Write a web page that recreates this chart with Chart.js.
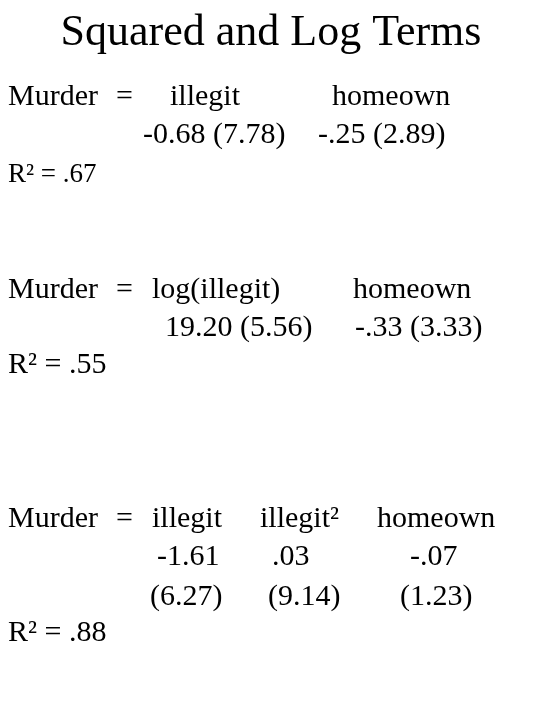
<!DOCTYPE html>
<html>
<head>
<meta charset="utf-8">
<script src="https://cdn.jsdelivr.net/npm/chart.js@4"></script>
<style>
  html, body { margin: 0; padding: 0; background: #fff; }
  #wrap { width: 540px; height: 720px; }
</style>
</head>
<body>
<div id="wrap"><canvas id="slide"></canvas></div>
<script>
const title = "Squared and Log Terms";
const model1Terms = ["Murder", "=", "illegit", "homeown"];
const model1Coefs = ["-0.68 (7.78)", "-.25 (2.89)"];
const model1R2 = "R² = .67";
const model2Terms = ["Murder", "=", "log(illegit)", "homeown"];
const model2Coefs = ["19.20 (5.56)", "-.33 (3.33)"];
const model2R2 = "R² = .55";
const model3Terms = ["Murder", "=", "illegit", "illegit²", "homeown"];
const model3Coefs = ["-1.61", ".03", "-.07"];
const model3Errors = ["(6.27)", "(9.14)", "(1.23)"];
const model3R2 = "R² = .88";

// layout: [text, x, y, size]
const items = [
  ...[[8, 97], [116, 97], [170, 97], [332, 97]].map((p, i) => [model1Terms[i], p[0], p[1], 30]),
  ...[[143, 135], [318, 135]].map((p, i) => [model1Coefs[i], p[0], p[1], 30]),
  [model1R2, 8, 175, 27],
  ...[[8, 290], [116, 290], [152, 290], [353, 290]].map((p, i) => [model2Terms[i], p[0], p[1], 30]),
  ...[[165, 328], [355, 328]].map((p, i) => [model2Coefs[i], p[0], p[1], 30]),
  [model2R2, 8, 365, 30],
  ...[[8, 519], [116, 519], [152, 519], [260, 519], [377, 519]].map((p, i) => [model3Terms[i], p[0], p[1], 30]),
  ...[[157, 557], [272, 557], [410, 557]].map((p, i) => [model3Coefs[i], p[0], p[1], 30]),
  ...[[150, 597], [268, 597], [400, 597]].map((p, i) => [model3Errors[i], p[0], p[1], 30]),
  [model3R2, 8, 633, 30],
];

const textPlugin = {
  id: "slideText",
  afterDraw(chart) {
    const { ctx, scales } = chart;
    ctx.save();
    ctx.fillStyle = "#000";
    ctx.textBaseline = "middle";
    ctx.font = "44px 'Liberation Serif'";
    ctx.textAlign = "center";
    ctx.fillText(title, scales.x.getPixelForValue(271), scales.y.getPixelForValue(33));
    ctx.textAlign = "left";
    items.forEach(([text, x, y, size]) => {
      ctx.font = `${size}px 'Liberation Serif'`;
      ctx.fillText(text, scales.x.getPixelForValue(x), scales.y.getPixelForValue(y));
    });
    ctx.restore();
  },
};

new Chart(document.getElementById("slide"), {
  type: "scatter",
  data: { datasets: [{ data: [] }] },
  options: {
    responsive: true,
    maintainAspectRatio: false,
    animation: false,
    layout: { padding: 0 },
    plugins: { legend: { display: false }, tooltip: { enabled: false } },
    scales: {
      x: { type: "linear", min: 0, max: 540, display: false },
      y: { type: "linear", min: 0, max: 720, reverse: true, display: false },
    },
  },
  plugins: [textPlugin],
});
</script>
</body>
</html>
